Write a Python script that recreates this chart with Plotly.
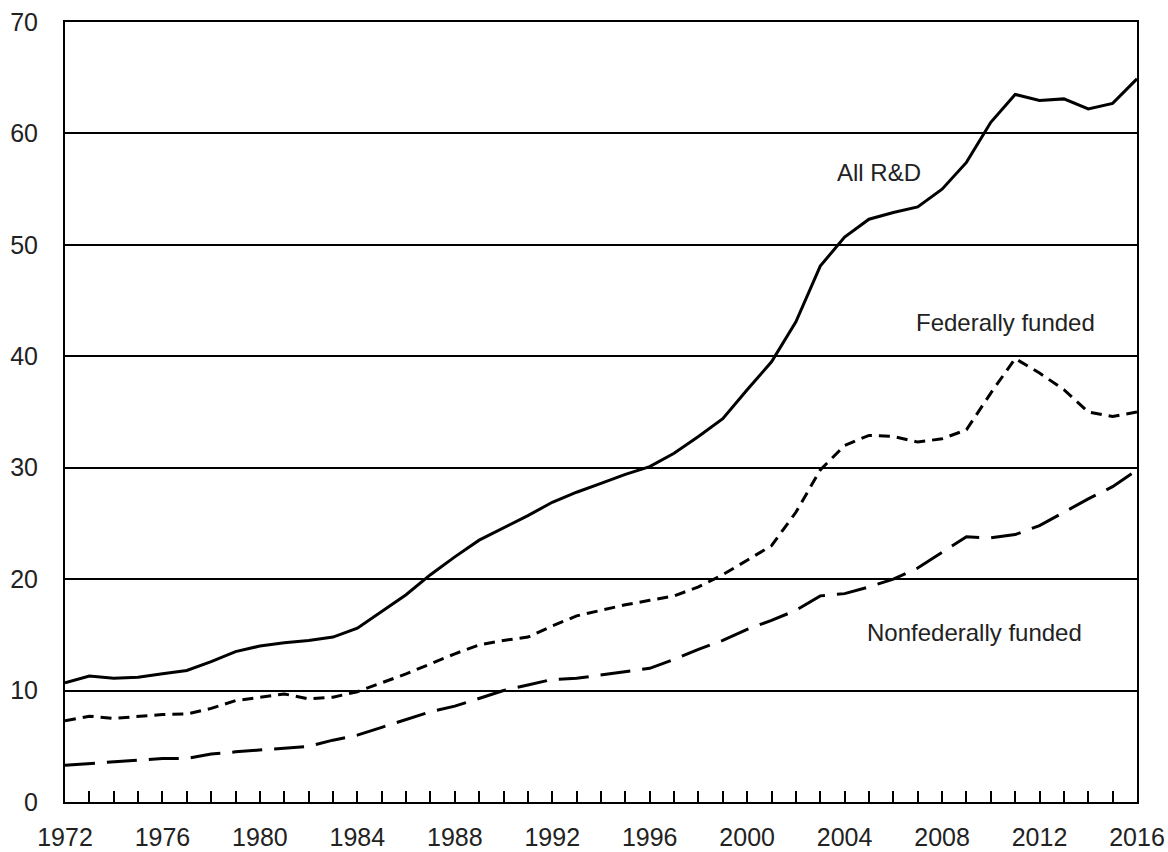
import plotly.graph_objects as go

years = list(range(1972, 2017))

all_rd = [10.7, 11.3, 11.1, 11.2, 11.5, 11.8, 12.6, 13.5, 14.0, 14.3,
          14.5, 14.8, 15.6, 17.1, 18.6, 20.4, 22.0, 23.5, 24.6, 25.7,
          26.9, 27.8, 28.6, 29.4, 30.1, 31.3, 32.8, 34.4, 37.0, 39.5,
          43.1, 48.1, 50.7, 52.3, 52.9, 53.4, 55.0, 57.4, 61.0, 63.5,
          62.95, 63.1, 62.2, 62.7, 64.9]

federal = [7.3, 7.7, 7.5, 7.7, 7.85, 7.9, 8.4, 9.1, 9.4, 9.7,
           9.25, 9.4, 9.9, 10.7, 11.5, 12.4, 13.3, 14.1, 14.5, 14.8,
           15.8, 16.7, 17.2, 17.7, 18.1, 18.5, 19.3, 20.4, 21.7, 23.0,
           26.0, 29.8, 32.0, 32.9, 32.8, 32.3, 32.6, 33.4, 36.7, 39.8,
           38.5, 37.0, 35.0, 34.6, 35.0]

nonfederal = [3.3, 3.45, 3.6, 3.75, 3.9, 3.9, 4.3, 4.5, 4.65, 4.8,
              5.0, 5.55, 6.0, 6.7, 7.4, 8.1, 8.6, 9.3, 10.0, 10.5,
              11.0, 11.1, 11.4, 11.7, 12.0, 12.8, 13.7, 14.5, 15.5, 16.3,
              17.2, 18.5, 18.7, 19.3, 20.0, 21.0, 22.4, 23.8, 23.7, 24.0,
              24.8, 26.0, 27.2, 28.3, 29.8]

x_ticks = list(range(1972, 2017, 4))
y_ticks = list(range(0, 71, 10))

labels = ["All R&D", "Federally funded", "Nonfederally funded"]
label_x = [2005.4, 2010.6, 2009.35]
label_y = [56.5, 43.0, 15.2]

FONT = "Liberation Sans, Arial, sans-serif"

fig = go.Figure()
fig.add_trace(go.Scatter(x=years, y=all_rd, mode="lines", name=labels[0],
                         line=dict(color="black", width=3)))
fig.add_trace(go.Scatter(x=years, y=federal, mode="lines", name=labels[1],
                         line=dict(color="black", width=3, dash="11px,7px")))
fig.add_trace(go.Scatter(x=years, y=nonfederal, mode="lines", name=labels[2],
                         line=dict(color="black", width=3, dash="30px,12px")))

for t, lx, ly in zip(labels, label_x, label_y):
    fig.add_annotation(x=lx, y=ly, text=t, showarrow=False,
                       font=dict(family=FONT, size=24, color="#222"))

fig.update_layout(
    width=1168, height=852,
    margin=dict(l=65, r=31, t=22, b=50),
    paper_bgcolor="white", plot_bgcolor="white",
    showlegend=False,
    font=dict(family=FONT, size=25, color="#222"),
    xaxis=dict(range=[1972, 2016.001], tickvals=x_ticks, ticktext=[str(v) for v in x_ticks],
               ticks="inside", ticklen=11, tickwidth=1.5, tickcolor="black",
               ticklabelstandoff=12, ticklabeloverflow="allow",
               minor=dict(dtick=1, tick0=1972, ticks="inside", ticklen=11,
                          tickwidth=1.5, tickcolor="black", showgrid=False),
               showgrid=False, zeroline=False, automargin=False,
               showline=True, linecolor="black", linewidth=2, mirror=True,
               tickfont=dict(family=FONT, size=25, color="#222")),
    yaxis=dict(range=[0, 70], tickvals=y_ticks, ticks="", ticklabelstandoff=20,
               ticklabeloverflow="allow",
               showgrid=True, gridcolor="black", gridwidth=1.5, zeroline=False,
               automargin=False,
               showline=True, linecolor="black", linewidth=2, mirror=True,
               tickfont=dict(family=FONT, size=25, color="#222")),
)

fig.write_html("out.html",
               config={"displayModeBar": False},
               post_script="document.body.style.margin='0';document.body.style.overflow='hidden';")
